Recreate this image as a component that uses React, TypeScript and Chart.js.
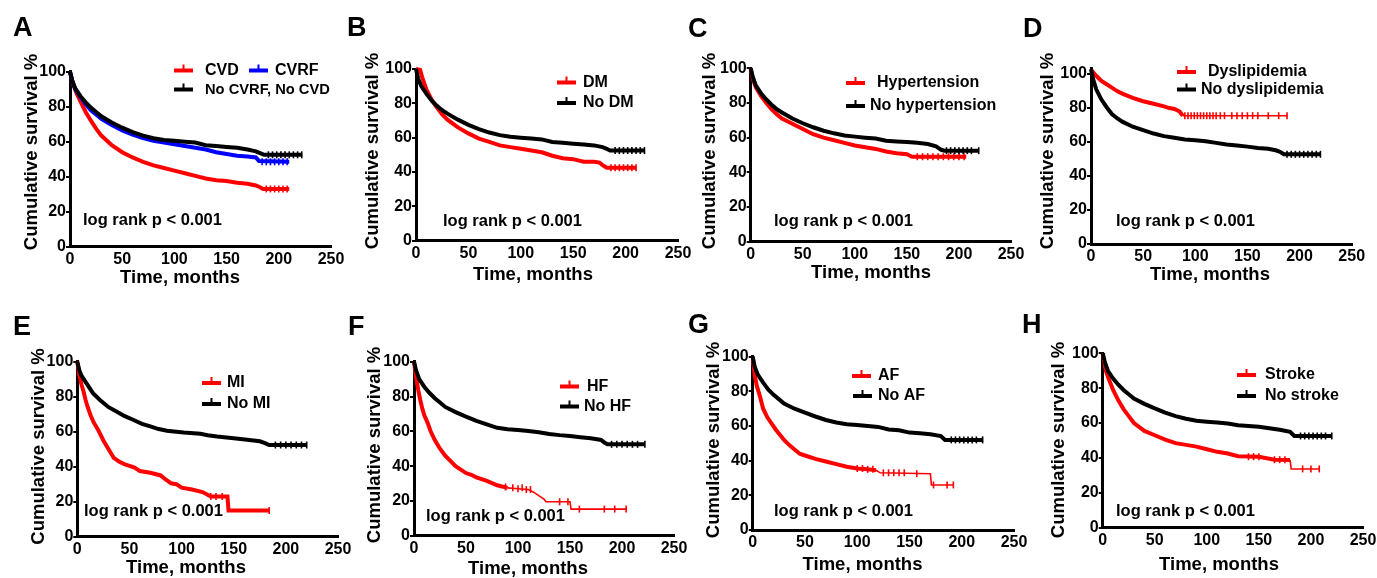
import React, { useEffect, useRef } from "react";
import { Chart, registerables } from "chart.js";
Chart.register(...registerables);

type P = [number, number];

const FONT = '"Liberation Sans", Arial, Helvetica, sans-serif';
const W = 1377;
const H = 578;

// ---------- text ----------
const Y_TITLE = "Cumulative survival %";
const X_TITLE = "Time, months";
const LOG_RANK = "log rank p < 0.001";

// ---------- ticks ----------
const timeTicks = [0, 50, 100, 150, 200, 250];
const survTicks = [0, 20, 40, 60, 80, 100];

// ---------- A ----------
const aNone: P[] = [[0,100],[2,95],[5,90.5],[10,86],[15,82.5],[20,79.5],[25,77],[30,74.5],[40,71],[50,68],[60,65.5],[70,63.5],[80,62],[90,61],[100,60.5],[110,60],[120,59.5],[130,58],[140,57.5],[150,57],[160,56.5],[170,55.5],[178,54.5],[182,53.5],[186,52.5],[222,52.5]];
const aCVRF: P[] = [[0,100],[2,95],[5,90],[10,85.5],[15,81.5],[20,78],[25,75.5],[30,73],[40,69.5],[50,66.5],[60,64],[70,62],[80,60.5],[90,59.5],[100,58.5],[110,57.5],[120,56.5],[130,55.5],[140,54],[150,53],[160,52],[170,51.5],[178,51],[181,49],[210,48.5]];
const aCVD: P[] = [[0,100],[3,93],[6,88],[10,83],[15,77],[20,72],[25,67.5],[30,63.5],[40,58],[50,54],[60,51],[70,48.5],[80,46.5],[90,45],[100,43.5],[110,42],[120,40.5],[130,39],[140,38],[150,37.5],[160,36.5],[170,36],[178,35],[182,34],[185,33],[210,33]];
const aNoneCens: P[] = [[190,52.5],[194,52.5],[198,52.5],[202,52.5],[206,52.5],[210,52.5],[214,52.5],[218,52.5],[222,52.5]];
const aCVRFCens: P[] = [[184,48.5],[188,48.5],[192,48.5],[196,48.5],[200,48.5],[204,48.5],[208,48.5]];
const aCVDCens: P[] = [[188,33],[192,33],[196,33],[200,33],[204,33],[208,33]];

// ---------- B ----------
const bNoDM: P[] = [[0,100],[2,94.5],[5,90],[10,85.5],[15,81.5],[20,78.5],[25,76],[30,74],[40,70.5],[50,67.5],[60,65],[70,63],[80,61.5],[90,60.5],[100,60],[110,59.5],[120,59],[130,57.5],[140,57],[150,56.5],[160,56],[170,55.5],[178,54.5],[182,53.5],[185,52.5],[218,52.5]];
const bDM: P[] = [[0,100],[4,99.5],[6,95],[10,88],[15,82],[20,77.5],[25,73.5],[30,70.5],[40,66],[50,62.5],[60,59.5],[70,57.5],[80,55.5],[90,54.5],[100,53.5],[110,52.5],[120,51.5],[130,49.5],[140,48],[150,47.5],[160,46],[170,46],[175,45.5],[178,44],[182,42.5],[210,42.5]];
const bNoDMCens: P[] = [[190,52.5],[194,52.5],[198,52.5],[202,52.5],[206,52.5],[210,52.5],[214,52.5],[218,52.5]];
const bDMCens: P[] = [[186,42.5],[190,42.5],[194,42.5],[198,42.5],[202,42.5],[206,42.5],[210,42.5]];

// ---------- C ----------
const cNoHTN: P[] = [[0,100],[2,95],[5,90],[10,85.5],[15,82],[20,79],[25,76.5],[30,74.5],[40,71],[50,68.3],[60,66],[70,64],[80,62.5],[90,61.3],[100,60.6],[110,60],[120,59.5],[130,58.2],[140,57.8],[150,57.5],[160,57],[170,56.3],[178,55],[183,53],[186,52.5],[219,52.5]];
const cHTN: P[] = [[0,100],[2,94],[5,89],[10,84],[15,80],[20,76.5],[25,73.5],[30,71],[40,68],[50,65],[60,62],[70,60],[80,58.5],[90,57],[100,55.5],[110,54.5],[120,53.5],[130,52],[140,51],[150,50.5],[155,49],[207,49]];
const cNoHTNCens: P[] = [[188,52.5],[192,52.5],[196,52.5],[200,52.5],[204,52.5],[208,52.5],[212,52.5],[219,52.5]];
const cHTNCens: P[] = [[160,49],[165,49],[170,49],[175,49],[180,49],[185,49],[190,49],[195,49],[200,49],[205,49]];

// ---------- D ----------
const dNoDys: P[] = [[0,103],[2,97],[5,91],[10,85],[15,80.5],[20,76.5],[25,74],[30,72],[40,69],[50,67],[60,65],[70,63.5],[80,62.5],[90,61.5],[100,61],[110,60.5],[120,59.5],[130,58.5],[140,58],[150,57.3],[160,56.5],[170,56],[178,55],[182,54],[185,52.8],[220,52.8]];
const dDys: P[] = [[0,102.5],[5,99],[10,96],[15,94],[20,92],[25,90],[30,88.5],[40,86],[50,84],[60,82.5],[70,81],[75,80],[80,79.5],[85,78],[88,75.5],[188,75.5]];
const dNoDysCens: P[] = [[188,52.8],[192,52.8],[196,52.8],[200,52.8],[204,52.8],[208,52.8],[212,52.8],[216,52.8],[220,52.8]];
const dDysCens: P[] = [[90,75.5],[93,75.5],[96,75.5],[99,75.5],[102,75.5],[105,75.5],[108,75.5],[111,75.5],[114,75.5],[117,75.5],[120,75.5],[124,75.5],[128,75.5],[135,75.5],[140,75.5],[145,75.5],[150,75.5],[155,75.5],[160,75.5],[170,75.5],[180,75.5],[188,75.5]];

// ---------- E ----------
const eNoMI: P[] = [[0,100],[2,95],[4,92],[9,87.5],[15,82],[22,78],[30,74],[38,71.4],[45,69],[54,66.7],[62,64.5],[70,63],[78,61.5],[86,60.6],[95,60],[102,59.5],[118,58.8],[125,58],[134,57.2],[150,56.3],[165,55.3],[175,54.5],[180,53.5],[184,52.4],[220,52.4]];
const eMI: P[] = [[0,100],[2,92],[4,87],[6,83],[8,78],[10,74],[13,69],[16,65],[20,61],[25,55],[30,50],[35,45],[40,43],[45,41.5],[50,40.5],[55,39.5],[60,37.5],[70,36.5],[80,35],[84,33],[90,30.5],[95,30],[100,28],[110,27],[120,25.5],[125,24],[128,23],[144,23],[145,15],[184,15]];
const eNoMICens: P[] = [[190,52.4],[195,52.4],[200,52.4],[205,52.4],[210,52.4],[215,52.4],[220,52.4]];
const eMICens: P[] = [[128,23],[133,23],[139,23],[184,15]];

// ---------- F ----------
const fNoHF: P[] = [[0,100],[2,95],[5,90],[10,85.5],[15,82],[20,79],[25,76.5],[30,74],[40,71],[50,68.4],[60,66],[70,64],[80,62],[90,61.2],[100,60.7],[110,60.2],[120,59.5],[130,58.5],[140,57.8],[150,57.3],[160,56.6],[170,56],[180,55],[183,53.5],[186,52.5],[222,52.5]];
const fHF: P[] = [[0,100],[2,91],[4,84],[6,78],[8,73],[10,69],[13,65],[16,60],[20,55],[25,50],[30,46],[35,43],[40,40],[45,38],[50,36],[55,35],[60,33.5],[70,31.5],[80,29],[90,27.5],[100,27],[110,26.5],[115,25],[120,23],[125,21],[127,19.5],[150,19.5],[151,15.3],[204,15.3]];
const fNoHFCens: P[] = [[190,52.5],[195,52.5],[200,52.5],[205,52.5],[210,52.5],[215,52.5],[222,52.5]];
const fHFCens: P[] = [[88,28],[95,27.5],[100,27],[104,27.5],[108,26.5],[112,26.5],[140,19.5],[148,19.5],[159,15.3],[183,15.3],[193,15.3],[204,15.3]];

// ---------- G ----------
const gNoAF: P[] = [[0,100],[2,94],[5,89.5],[10,85],[15,81],[20,78],[25,75.5],[30,73],[40,70],[50,67.7],[60,65.5],[70,63.5],[80,62],[90,61],[100,60.6],[110,60],[120,59.5],[130,58],[140,57.5],[150,56.2],[160,55.8],[170,55.3],[180,54.2],[184,52],[220,52]];
const gAF: P[] = [[0,100],[2,89],[4,83],[7,77],[10,70],[14,65],[18,61.5],[22,58],[26,55],[30,52],[35,49],[40,46.5],[45,44],[50,43],[60,41],[70,39.5],[80,38],[90,36.5],[100,35.5],[110,35],[118,34.5],[122,33],[170,32.5],[171,26],[192,26]];
const gNoAFCens: P[] = [[190,52],[194,52],[198,52],[202,52],[206,52],[210,52],[214,52],[220,52]];
const gAFCens: P[] = [[100,35.5],[105,35.5],[110,35],[115,35],[125,33],[130,33],[135,33],[140,33],[145,33],[157,32.5],[173,26],[186,26],[192,26]];

// ---------- H ----------
const hNoStroke: P[] = [[0,100],[2,95],[5,90],[10,85.5],[15,82],[20,79],[25,76.5],[30,74],[40,71],[50,68.4],[60,66],[70,64],[80,62.5],[90,61.3],[100,60.8],[110,60.3],[120,59.8],[130,58.8],[140,58.3],[150,57.9],[160,57],[170,56.2],[180,55],[184,52.6],[220,52.6]];
const hStroke: P[] = [[0,100],[3,90],[6,85],[10,79],[15,73],[20,68],[25,64],[30,60],[40,55.5],[50,53],[60,50.5],[70,48.5],[80,47.5],[90,46.5],[100,45],[110,43.5],[120,42.5],[130,41],[150,40.7],[165,39],[180,38.8],[181,33.7],[208,33.7]];
const hNoStrokeCens: P[] = [[190,52.6],[194,52.6],[198,52.6],[202,52.6],[206,52.6],[210,52.6],[214,52.6],[220,52.6]];
const hStrokeCens: P[] = [[140,40.7],[145,40.7],[150,40.7],[165,39],[170,39],[175,39],[192,33.7],[200,33.7],[208,33.7]];

// ---------- layout / style ----------
interface Series {
  label: string;
  color: string;
  data: P[];
  censor: P[];
  thinAfter?: number;
  legend: { mx: number; tx: number; y: number; size?: number };
}
interface PanelCfg {
  letter: string;
  lx: number;
  ly: number;
  area: { l: number; t: number; r: number; b: number };
  yMax: number;
  yTitle: { x: number; y: number };
  xTitle: { x: number; y: number };
  logrank: { x: number; y: number };
  series: Series[];
}

const RED = "#ff0000";
const BLUE = "#0000ff";
const BLACK = "#000000";
const Y_BOX = 40; // width of the y scale box
const X_BOX = 30; // height of the x scale box

const PANELS: PanelCfg[] = [
  {
    letter: "A", lx: 13, ly: 36, area: { l: 70, t: 71.7, r: 331, b: 246.7 }, yMax: 100,
    yTitle: { x: 32, y: 152 }, xTitle: { x: 180, y: 278 }, logrank: { x: 83, y: 220 },
    series: [
      { label: "No CVRF, No CVD", color: BLACK, data: aNone, censor: aNoneCens, legend: { mx: 174, tx: 205, y: 89.5, size: 14.7 } },
      { label: "CVRF", color: BLUE, data: aCVRF, censor: aCVRFCens, legend: { mx: 249, tx: 275, y: 70.5 } },
      { label: "CVD", color: RED, data: aCVD, censor: aCVDCens, legend: { mx: 174, tx: 205, y: 70.5 } },
    ],
  },
  {
    letter: "B", lx: 347, ly: 36, area: { l: 416, t: 69, r: 678, b: 240.7 }, yMax: 100,
    yTitle: { x: 373, y: 151 }, xTitle: { x: 533, y: 275 }, logrank: { x: 443, y: 221.5 },
    series: [
      { label: "No DM", color: BLACK, data: bNoDM, censor: bNoDMCens, legend: { mx: 557, tx: 583, y: 103 } },
      { label: "DM", color: RED, data: bDM, censor: bDMCens, legend: { mx: 557, tx: 583, y: 82.5 } },
    ],
  },
  {
    letter: "C", lx: 688, ly: 37, area: { l: 750.7, t: 68.3, r: 1011, b: 241.7 }, yMax: 100,
    yTitle: { x: 710, y: 151 }, xTitle: { x: 871, y: 273 }, logrank: { x: 774, y: 221.5 },
    series: [
      { label: "No hypertension", color: BLACK, data: cNoHTN, censor: cNoHTNCens, legend: { mx: 846, tx: 870, y: 106 } },
      { label: "Hypertension", color: RED, data: cHTN, censor: cHTNCens, legend: { mx: 846, tx: 877, y: 83 } },
    ],
  },
  {
    letter: "D", lx: 1023, ly: 37, area: { l: 1091, t: 68.3, r: 1351.7, b: 244 }, yMax: 103.4,
    yTitle: { x: 1048, y: 151 }, xTitle: { x: 1210, y: 275 }, logrank: { x: 1116, y: 221.5 },
    series: [
      { label: "No dyslipidemia", color: BLACK, data: dNoDys, censor: dNoDysCens, legend: { mx: 1177, tx: 1201, y: 89.5 } },
      { label: "Dyslipidemia", color: RED, data: dDys, censor: dDysCens, thinAfter: 88, legend: { mx: 1177, tx: 1208, y: 72 } },
    ],
  },
  {
    letter: "E", lx: 13, ly: 335, area: { l: 77.3, t: 361.7, r: 338, b: 536.7 }, yMax: 100,
    yTitle: { x: 38.5, y: 446.5 }, xTitle: { x: 186, y: 568 }, logrank: { x: 84, y: 511.5 },
    series: [
      { label: "No MI", color: BLACK, data: eNoMI, censor: eNoMICens, legend: { mx: 202, tx: 227, y: 404 } },
      { label: "MI", color: RED, data: eMI, censor: eMICens, legend: { mx: 202, tx: 227, y: 383 } },
    ],
  },
  {
    letter: "F", lx: 348, ly: 335, area: { l: 414, t: 361.7, r: 674, b: 535.7 }, yMax: 100,
    yTitle: { x: 375, y: 445 }, xTitle: { x: 528, y: 569 }, logrank: { x: 426, y: 516 },
    series: [
      { label: "No HF", color: BLACK, data: fNoHF, censor: fNoHFCens, legend: { mx: 560, tx: 584, y: 406.5 } },
      { label: "HF", color: RED, data: fHF, censor: fHFCens, thinAfter: 82, legend: { mx: 560, tx: 587, y: 386.5 } },
    ],
  },
  {
    letter: "G", lx: 688, ly: 333, area: { l: 752.7, t: 356.7, r: 1014, b: 530 }, yMax: 100,
    yTitle: { x: 713.5, y: 440 }, xTitle: { x: 862.5, y: 565 }, logrank: { x: 774, y: 511.5 },
    series: [
      { label: "No AF", color: BLACK, data: gNoAF, censor: gNoAFCens, legend: { mx: 853, tx: 878, y: 396 } },
      { label: "AF", color: RED, data: gAF, censor: gAFCens, thinAfter: 118, legend: { mx: 852, tx: 878, y: 376 } },
    ],
  },
  {
    letter: "H", lx: 1022, ly: 333, area: { l: 1102.7, t: 353.3, r: 1363, b: 527.7 }, yMax: 100,
    yTitle: { x: 1058.5, y: 440 }, xTitle: { x: 1219, y: 565 }, logrank: { x: 1116, y: 511.5 },
    series: [
      { label: "No stroke", color: BLACK, data: hNoStroke, censor: hNoStrokeCens, legend: { mx: 1237, tx: 1265, y: 396 } },
      { label: "Stroke", color: RED, data: hStroke, censor: hStrokeCens, thinAfter: 179, legend: { mx: 1237, tx: 1265, y: 375 } },
    ],
  },
];

function makeDecor(p: PanelCfg) {
  return {
    id: "decor" + p.letter,
    afterDraw(chart: any) {
      const ctx: CanvasRenderingContext2D = chart.ctx;
      ctx.save();
      ctx.fillStyle = "#000";
      ctx.textAlign = "left";
      ctx.textBaseline = "alphabetic";
      ctx.font = `bold 27px ${FONT}`;
      ctx.fillText(p.letter, p.lx, p.ly);

      ctx.font = `bold 18.5px ${FONT}`;
      ctx.save();
      ctx.translate(p.yTitle.x, p.yTitle.y);
      ctx.rotate(-Math.PI / 2);
      ctx.textAlign = "center";
      ctx.textBaseline = "middle";
      ctx.fillText(Y_TITLE, 0, 0);
      ctx.restore();

      ctx.textAlign = "center";
      ctx.textBaseline = "middle";
      ctx.fillText(X_TITLE, p.xTitle.x, p.xTitle.y);

      ctx.font = `bold 16.5px ${FONT}`;
      ctx.textAlign = "left";
      ctx.fillText(LOG_RANK, p.logrank.x, p.logrank.y);

      for (const s of p.series) {
        const L = s.legend;
        ctx.strokeStyle = s.color;
        ctx.lineWidth = 4;
        ctx.beginPath();
        ctx.moveTo(L.mx, L.y);
        ctx.lineTo(L.mx + 19, L.y);
        ctx.stroke();
        ctx.lineWidth = 2;
        ctx.beginPath();
        ctx.moveTo(L.mx + 9.5, L.y);
        ctx.lineTo(L.mx + 9.5, L.y - 6);
        ctx.stroke();
        ctx.fillStyle = "#000";
        ctx.font = `bold ${L.size ?? 16}px ${FONT}`;
        ctx.textBaseline = "middle";
        ctx.fillText(s.label, L.tx, L.y);
      }
      ctx.restore();
    },
  };
}

function buildConfig(p: PanelCfg): any {
  const datasets: any[] = [];
  for (const s of p.series) {
    const thin = s.thinAfter;
    datasets.push({
      type: "line",
      label: s.label,
      data: s.data.map(([x, y]) => ({ x, y })),
      borderColor: s.color,
      borderWidth: 4,
      pointRadius: 0,
      tension: 0,
      fill: false,
      clip: false,
      borderJoinStyle: "miter",
      segment: {
        borderWidth: (ctx: any) => (thin !== undefined && ctx.p0.parsed.x >= thin ? 1.6 : 4),
      },
    });
  }
  for (const s of p.series) {
    datasets.push({
      type: "line",
      label: s.label + " censored",
      data: s.censor.map(([x, y]) => ({ x, y })),
      showLine: false,
      borderColor: s.color,
      backgroundColor: s.color,
      pointStyle: "line",
      pointRadius: 3.5,
      pointRotation: 90,
      pointBorderWidth: 1.6,
      pointBorderColor: s.color,
      clip: false,
    });
  }
  const tickFont = { family: FONT, size: 16, weight: "bold" as const };
  return {
    type: "line",
    data: { datasets },
    options: {
      responsive: false,
      animation: false,
      events: [],
      layout: {
        padding: {
          left: p.area.l - Y_BOX,
          top: p.area.t,
          right: W - p.area.r,
          bottom: H - p.area.b - X_BOX,
        },
      },
      plugins: {
        legend: { display: false },
        tooltip: { enabled: false },
        title: { display: false },
      },
      scales: {
        x: {
          type: "linear",
          position: "bottom",
          min: timeTicks[0],
          max: timeTicks[timeTicks.length - 1],
          afterBuildTicks: (s: any) => {
            s.ticks = timeTicks.map((v) => ({ value: v }));
          },
          afterFit: (s: any) => {
            s.height = X_BOX;
            s.paddingLeft = 0;
            s.paddingRight = 0;
          },
          ticks: { font: tickFont, color: "#000", padding: 3, maxRotation: 0, autoSkip: false },
          grid: { display: true, drawOnChartArea: false, drawTicks: false, color: "#000", lineWidth: 2 },
          border: { display: true, color: "#000", width: 3 },
        },
        y: {
          type: "linear",
          position: "left",
          min: 0,
          max: p.yMax,
          afterBuildTicks: (s: any) => {
            s.ticks = survTicks.map((v) => ({ value: v }));
          },
          afterFit: (s: any) => {
            s.width = Y_BOX;
            s.paddingTop = 0;
            s.paddingBottom = 0;
          },
          ticks: { font: tickFont, color: "#000", padding: 0, autoSkip: false },
          grid: { display: true, drawOnChartArea: false, drawTicks: true, tickLength: 4, color: "#000", lineWidth: 2 },
          border: { display: true, color: "#000", width: 3 },
        },
      },
    },
    plugins: [makeDecor(p)],
  };
}

function PanelChart({ p }: { p: PanelCfg }) {
  const ref = useRef<HTMLCanvasElement>(null);
  useEffect(() => {
    if (!ref.current) return;
    const chart = new Chart(ref.current, buildConfig(p));
    return () => chart.destroy();
  }, [p]);
  return (
    <canvas
      ref={ref}
      width={W}
      height={H}
      style={{ position: "absolute", left: 0, top: 0, width: W, height: H }}
    />
  );
}

export default function App() {
  return (
    <div
      style={{
        position: "absolute",
        left: 0,
        top: 0,
        width: W,
        height: H,
        overflow: "hidden",
        background: "#ffffff",
      }}
    >
      {PANELS.map((p) => (
        <PanelChart key={p.letter} p={p} />
      ))}
    </div>
  );
}
